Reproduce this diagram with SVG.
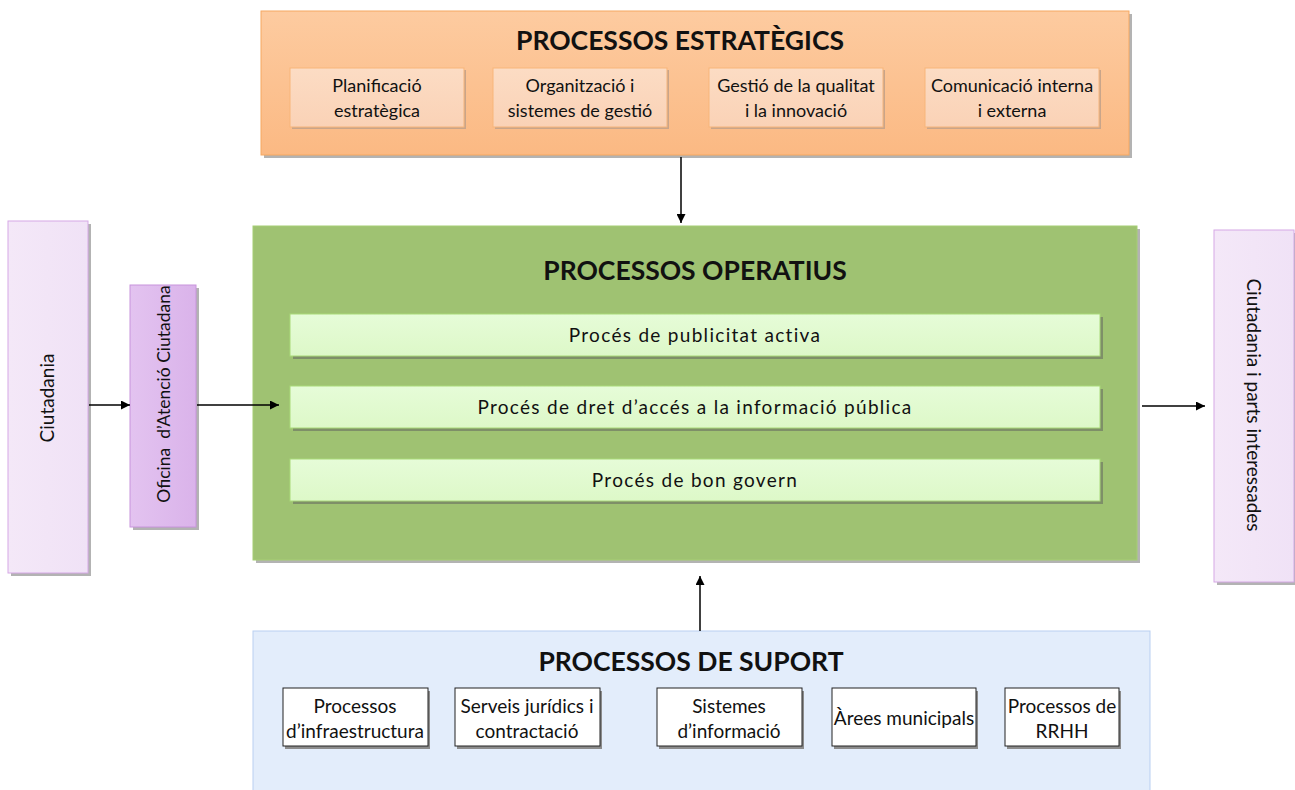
<svg xmlns="http://www.w3.org/2000/svg" width="1295" height="790" viewBox="0 0 1295 790">
  <defs>
    <linearGradient id="gOrange" x1="0" y1="0" x2="0" y2="1">
      <stop offset="0" stop-color="#FDCBA0"/>
      <stop offset="1" stop-color="#FBB983"/>
    </linearGradient>
    <linearGradient id="gOrangeIn" x1="0" y1="0" x2="0" y2="1">
      <stop offset="0" stop-color="#FCDCC4"/>
      <stop offset="1" stop-color="#FAD2B6"/>
    </linearGradient>
    <linearGradient id="gGreenIn" x1="0" y1="0" x2="0" y2="1">
      <stop offset="0" stop-color="#E6FCD8"/>
      <stop offset="1" stop-color="#DDF8C8"/>
    </linearGradient>
    <linearGradient id="gLilac" x1="0" y1="0" x2="1" y2="0">
      <stop offset="0" stop-color="#F4E8F8"/>
      <stop offset="1" stop-color="#F0E2F6"/>
    </linearGradient>
    <linearGradient id="gViolet" x1="0" y1="0" x2="1" y2="0">
      <stop offset="0" stop-color="#E3C3F0"/>
      <stop offset="1" stop-color="#DAB3EA"/>
    </linearGradient>
    <marker id="arr" viewBox="0 0 10 10" refX="10" refY="5" markerWidth="9" markerHeight="9" markerUnits="userSpaceOnUse" orient="auto">
      <path d="M0,0 L10,5 L0,10 z" fill="#000"/>
    </marker>
  </defs>
  <style>
    text { font-family: Lato, "Open Sans", "Liberation Sans", sans-serif; fill: #111; }
    .title { font-size: 26.5px; font-weight: bold; text-anchor: middle; }
    .lbl { font-size: 18px; text-anchor: middle; }
    .sup { font-size: 19px; text-anchor: middle; }
    .bar { font-size: 19px; letter-spacing: 1.3px; text-anchor: middle; }
    .vert { font-size: 19px; text-anchor: middle; }
    .shadow { fill: #B3B3B3; }
    .ishadow { fill: #7E8F68; }
    .conn { stroke: #000; stroke-width: 1.5; fill: none; marker-end: url(#arr); }
  </style>

  <rect width="1295" height="790" fill="#fff"/>

  <!-- Strategic processes -->
  <g id="estrategics">
    <rect class="shadow" x="264" y="14" width="868" height="144"/>
    <rect x="261" y="11" width="868" height="144" fill="url(#gOrange)" stroke="#F6A861" stroke-width="1"/>
    <text class="title" x="680" y="50">PROCESSOS ESTRATÈGICS</text>
  </g>
  <g id="planificacio">
    <rect x="292" y="70" width="174" height="59" fill="#C9A58A"/>
    <rect x="290" y="68" width="174" height="59" fill="url(#gOrangeIn)" stroke="#F7B57A"/>
    <text class="lbl" x="377" y="92">Planificació</text>
    <text class="lbl" x="377" y="117">estratègica</text>
  </g>
  <g id="organitzacio">
    <rect x="495" y="70" width="174" height="59" fill="#C9A58A"/>
    <rect x="493" y="68" width="174" height="59" fill="url(#gOrangeIn)" stroke="#F7B57A"/>
    <text class="lbl" x="580" y="92">Organització i</text>
    <text class="lbl" x="580" y="117">sistemes de gestió</text>
  </g>
  <g id="qualitat">
    <rect x="711" y="70" width="174" height="59" fill="#C9A58A"/>
    <rect x="709" y="68" width="174" height="59" fill="url(#gOrangeIn)" stroke="#F7B57A"/>
    <text class="lbl" x="796" y="92">Gestió de la qualitat</text>
    <text class="lbl" x="796" y="117">i la innovació</text>
  </g>
  <g id="comunicacio">
    <rect x="927" y="70" width="174" height="59" fill="#C9A58A"/>
    <rect x="925" y="68" width="174" height="59" fill="url(#gOrangeIn)" stroke="#F7B57A"/>
    <text class="lbl" x="1012" y="92">Comunicació interna</text>
    <text class="lbl" x="1012" y="117">i externa</text>
  </g>

  <!-- Operational processes -->
  <g id="operatius">
    <rect class="shadow" x="256" y="229" width="884" height="334"/>
    <rect x="253" y="226" width="884" height="334" fill="#9FC272" stroke="#A6CE74"/>
    <text class="title" x="695" y="280">PROCESSOS OPERATIUS</text>
  </g>
  <g id="publicitat">
    <rect class="ishadow" x="293" y="317" width="810" height="42"/>
    <rect x="290" y="314" width="810" height="42" fill="url(#gGreenIn)" stroke="#A9DA78"/>
    <text class="bar" x="695" y="342">Procés de publicitat activa</text>
  </g>
  <g id="acces">
    <rect class="ishadow" x="293" y="389" width="810" height="42"/>
    <rect x="290" y="386" width="810" height="42" fill="url(#gGreenIn)" stroke="#A9DA78"/>
    <text class="bar" x="695" y="414">Procés de dret d’accés a la informació pública</text>
  </g>
  <g id="bongovern">
    <rect class="ishadow" x="293" y="462" width="810" height="42"/>
    <rect x="290" y="459" width="810" height="42" fill="url(#gGreenIn)" stroke="#A9DA78"/>
    <text class="bar" x="695" y="487">Procés de bon govern</text>
  </g>

  <!-- Citizens -->
  <g id="ciutadania">
    <rect class="shadow" x="11" y="224" width="80" height="352"/>
    <rect x="8" y="221" width="80" height="352" fill="url(#gLilac)" stroke="#D6A8E6"/>
    <text class="vert" transform="translate(54 398) rotate(-90)">Ciutadania</text>
  </g>
  <g id="oac">
    <rect class="shadow" x="133" y="288" width="66" height="242"/>
    <rect x="130" y="285" width="66" height="242" fill="url(#gViolet)" stroke="#C894DC"/>
    <text class="vert" style="font-size:17.5px; white-space:pre" transform="translate(170 394) rotate(-90)">Oficina  d’Atenció Ciutadana</text>
  </g>
  <g id="parts">
    <rect class="shadow" x="1217" y="233" width="80" height="352"/>
    <rect x="1214" y="230" width="80" height="352" fill="url(#gLilac)" stroke="#D6A8E6"/>
    <text class="vert" transform="translate(1247 405) rotate(90)">Ciutadania i parts interessades</text>
  </g>

  <!-- Support processes -->
  <g id="suport">
    <rect x="253" y="631" width="897" height="160" fill="#E3EDFB" stroke="#B9CFF1"/>
    <text class="title" x="691" y="671">PROCESSOS DE SUPORT</text>
  </g>
  <g id="infra">
    <rect x="285" y="691" width="145" height="58" fill="#8C8C8C"/>
    <rect x="283" y="688" width="145" height="58" fill="#fff" stroke="#222"/>
    <text class="sup" x="355" y="713">Processos</text>
    <text class="sup" x="355" y="738">d’infraestructura</text>
  </g>
  <g id="juridics">
    <rect x="457" y="691" width="145" height="58" fill="#8C8C8C"/>
    <rect x="455" y="688" width="145" height="58" fill="#fff" stroke="#222"/>
    <text class="sup" x="527" y="713">Serveis jurídics i</text>
    <text class="sup" x="527" y="738">contractació</text>
  </g>
  <g id="sistemes">
    <rect x="659" y="691" width="145" height="58" fill="#8C8C8C"/>
    <rect x="657" y="688" width="145" height="58" fill="#fff" stroke="#222"/>
    <text class="sup" x="729" y="713">Sistemes</text>
    <text class="sup" x="729" y="738">d’informació</text>
  </g>
  <g id="arees">
    <rect x="834" y="691" width="144" height="58" fill="#8C8C8C"/>
    <rect x="832" y="688" width="144" height="58" fill="#fff" stroke="#222"/>
    <text class="sup" x="904" y="725">Àrees municipals</text>
  </g>
  <g id="rrhh">
    <rect x="1007" y="691" width="114" height="58" fill="#8C8C8C"/>
    <rect x="1005" y="688" width="114" height="58" fill="#fff" stroke="#222"/>
    <text class="sup" x="1062" y="713">Processos de</text>
    <text class="sup" x="1062" y="738">RRHH</text>
  </g>

  <!-- Connectors -->
  <g id="connectors">
    <line class="conn" x1="681" y1="157" x2="681" y2="223"/>
    <line class="conn" x1="89" y1="405" x2="130" y2="405"/>
    <line class="conn" x1="197" y1="405" x2="279" y2="405"/>
    <line class="conn" x1="1142" y1="406" x2="1205" y2="406"/>
    <line class="conn" x1="700" y1="631" x2="700" y2="576"/>
  </g>
</svg>
